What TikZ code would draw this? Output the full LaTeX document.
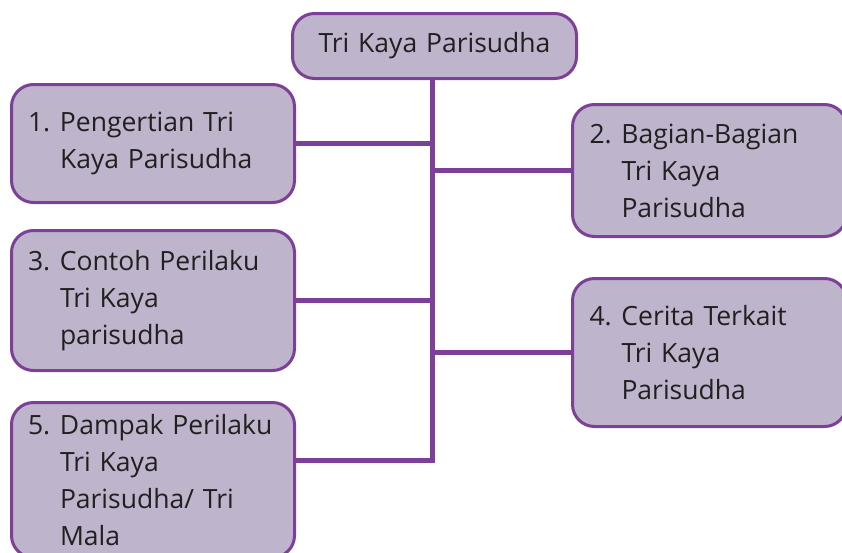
\documentclass[tikz,border=0pt]{standalone}
\usepackage{fontspec}
\setmainfont{Open Sans}
\definecolor{ungu}{HTML}{7D3F98}
\definecolor{unguMuda}{HTML}{BEB4CB}
\definecolor{tinta}{HTML}{231F20}
\newcommand{\nomor}[1]{\makebox[32pt][l]{#1}}
\newcommand{\inden}{\hspace*{32pt}}

\begin{document}
\begin{tikzpicture}[x=1pt, y=-1pt,
		kotak/.style={draw=ungu, fill=unguMuda, line width=3pt, rounded corners=22pt,
			anchor=north west, inner sep=0pt, text=tinta, font=\fontsize{26.5}{37}\selectfont,
			align=left},
		garis/.style={draw=ungu, line width=5pt}
	]
	\useasboundingbox (0,0) rectangle (842,552);
	\clip (0,0) rectangle (842,552);
	% title
	\node[kotak, minimum width=284pt, minimum height=65pt, text width=250pt, align=center] (judul) at (291,12) {Tri Kaya Parisudha};
	% left boxes
	\node[kotak, minimum width=283pt, minimum height=118pt, text width=250pt] (pengertian) at (10,83)
		{\nomor{1.}Pengertian Tri\\\inden Kaya Parisudha};
	\node[kotak, minimum width=283pt, minimum height=140pt, text width=250pt] (contoh) at (10,229)
		{\nomor{3.}Contoh Perilaku\\\inden Tri Kaya\\\inden parisudha};
	\node[kotak, minimum width=283pt, minimum height=155pt, text width=250pt] (dampak) at (10,401)
		{\nomor{5.}Dampak Perilaku\\\inden Tri Kaya\\\inden Parisudha/ Tri\\\inden Mala};
	% right boxes
	\node[kotak, minimum width=274pt, minimum height=132pt, text width=240pt] (bagian) at (571,103)
		{\nomor{2.}Bagian-Bagian\\\inden Tri Kaya\\\inden Parisudha};
	\node[kotak, minimum width=274pt, minimum height=148pt, text width=240pt] (cerita) at (571,277)
		{\nomor{4.}Cerita Terkait\\\inden Tri Kaya\\\inden Parisudha};
	% trunk
	\coordinate (ujung) at (432,460);
	\draw[garis] (judul.south -| ujung) -- (ujung) -- (ujung -| dampak.east);
	% branches
	\draw[garis] (pengertian.east) -- (pengertian.east -| ujung);
	\draw[garis] (contoh.east) -- (contoh.east -| ujung);
	\draw[garis] (bagian.west) -- (bagian.west -| ujung);
	\draw[garis] (cerita.west) -- (cerita.west -| ujung);
\end{tikzpicture}
\end{document}
